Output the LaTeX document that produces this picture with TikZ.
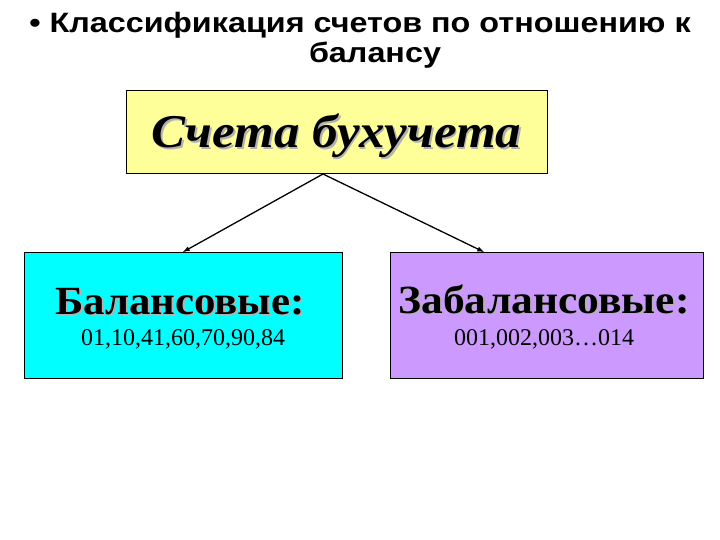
\documentclass[tikz,border=0pt]{standalone}
\usepackage{fontspec}
\usepackage{graphicx}
\setmainfont{Liberation Serif}
\newfontfamily\titlefont{Liberation Sans}
\newcommand\shadowed[1]{\leavevmode\rlap{\hspace{1.6pt}\raisebox{-1.6pt}{\color{black!30}#1}}#1}
\begin{document}
\begin{tikzpicture}[x=1pt,y=-1pt,
  box/.style={draw=black,line width=1pt,inner sep=0pt},
  conn/.style={draw=black,line width=1.3pt,-latex},
  titletxt/.style={font=\titlefont\bfseries\fontsize{28}{30}\selectfont,anchor=base,inner sep=0pt},
  headtxt/.style={font=\bfseries\fontsize{40}{44}\selectfont,anchor=base,inner sep=0pt},
  numtxt/.style={font=\fontsize{24}{26}\selectfont,anchor=base,inner sep=0pt},
]
\useasboundingbox (0,0) rectangle (720,540);
\fill[white] (0,0) rectangle (720,540);
% title
\node[titletxt] (t1) at (360,33) {\scalebox{1.155}[1]{• Классификация счетов по отношению к}};
\node[titletxt] (t2) at (375,63) {\scalebox{1.155}[1]{балансу}};
% boxes
\node[box,fill={rgb,255:red,255;green,255;blue,153},minimum width=421,minimum height=83] (top) at (336.5,132.5) {};
\node[box,fill={rgb,255:red,0;green,255;blue,255},minimum width=318,minimum height=126] (left) at (183,315) {};
\node[box,fill={rgb,255:red,204;green,153;blue,255},minimum width=313,minimum height=126] (right) at (546.5,315) {};
% texts
\node[font=\bfseries\itshape\fontsize{47}{50}\selectfont,anchor=base,inner sep=0pt] (toptxt) at (336.5,148) {\scalebox{1.085}[1]{\shadowed{Счета бухучета}}};
\node[headtxt] (ltxt) at (180,314) {\scalebox{1.07}[1]{\shadowed{Балансовые:}}};
\node[numtxt] (lnum) at (183,345) {01,10,41,60,70,90,84};
\node[headtxt] (rtxt) at (544,313) {\scalebox{1.087}[1]{\shadowed{Забалансовые:}}};
\node[numtxt] (rnum) at (544,345) {001,002,003…014};
% connectors
\coordinate (apex) at (323,174);
\draw[conn] (apex) -- (183,252);
\draw[conn] (apex) -- (484,252);
\end{tikzpicture}
\end{document}
